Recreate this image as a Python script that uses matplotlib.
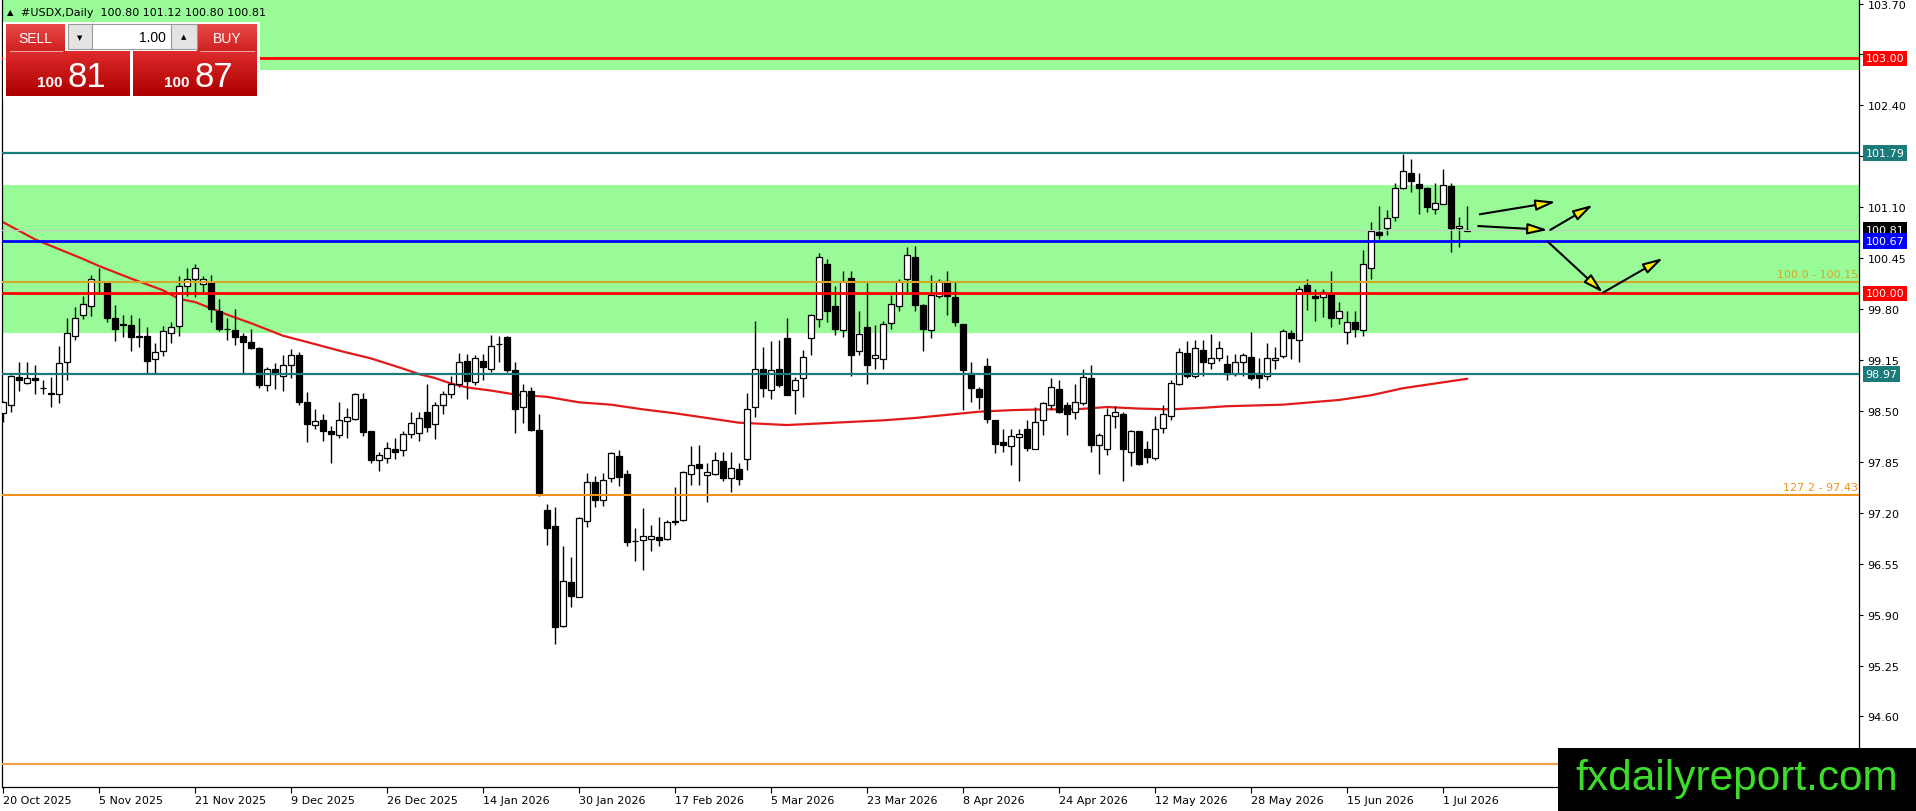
import numpy as np
import matplotlib
matplotlib.use('Agg')
import matplotlib.pyplot as plt
from matplotlib.patches import Rectangle
from matplotlib.colors import LinearSegmentedColormap

# daily candles, one per bar index
opens = [98.47, 98.58, 98.93, 98.86, 98.92, 98.79, 98.73, 98.71, 99.12, 99.46,
         99.73, 99.84, 100.15, 100.13, 99.68, 99.61, 99.60, 99.46, 99.46, 99.16,
         99.26, 99.50, 99.58, 100.09, 100.19, 100.12, 100.15, 99.78, 99.55, 99.53,
         99.46, 99.38, 99.30, 98.83, 99.04, 98.94, 99.08, 99.22, 98.61, 98.32,
         98.39, 98.25, 98.19, 98.37, 98.40, 98.65, 98.25, 97.88, 97.90, 98.02,
         98.00, 98.20, 98.22, 98.48, 98.33, 98.58, 98.71, 98.85, 99.14, 98.87,
         99.14, 99.03, 99.35, 99.44, 99.02, 98.55, 98.76, 98.26, 97.24, 97.03,
         95.75, 96.32, 96.13, 97.09, 97.59, 97.36, 97.65, 97.93, 97.70, 96.84,
         96.85, 96.87, 96.89, 96.86, 97.10, 97.11, 97.70, 97.82, 97.68, 97.70,
         97.86, 97.64, 97.76, 97.89, 98.55, 99.03, 98.77, 99.03, 99.43, 98.77,
         98.92, 99.43, 99.67, 100.37, 99.84, 99.53, 100.20, 99.26, 99.57, 99.17,
         99.16, 99.62, 99.84, 100.19, 100.47, 99.85, 99.53, 99.97, 100.16, 99.96,
         99.61, 98.99, 98.78, 99.07, 98.38, 98.10, 98.05, 98.17, 98.27, 98.02,
         98.38, 98.57, 98.78, 98.58, 98.48, 98.60, 98.92, 98.06, 98.02, 98.44,
         98.46, 97.98, 98.24, 98.01, 97.90, 98.28, 98.44, 98.84, 99.24, 98.95,
         99.28, 99.11, 99.17, 99.10, 98.97, 99.12, 99.19, 98.98, 98.95, 99.15,
         99.20, 99.50, 99.40, 100.11, 99.97, 99.96, 99.99, 99.68, 99.51, 99.63,
         99.53, 100.33, 100.78, 100.83, 100.98, 101.34, 101.54, 101.40, 101.35, 101.08,
         101.14, 101.37, 100.84, 100.80]
highs = [98.63, 98.96, 99.12, 99.12, 99.09, 98.89, 98.93, 99.33, 99.69, 99.83,
         99.97, 100.23, 100.33, 100.14, 99.85, 99.72, 99.72, 99.68, 99.57, 99.37,
         99.59, 99.63, 100.22, 100.33, 100.37, 100.22, 100.23, 99.93, 99.68, 99.80,
         99.50, 99.55, 99.31, 99.06, 99.11, 99.21, 99.29, 99.25, 98.74, 98.52,
         98.46, 98.31, 98.62, 98.54, 98.73, 98.73, 98.25, 97.98, 98.10, 98.15,
         98.25, 98.48, 98.48, 98.85, 98.61, 98.76, 98.95, 99.24, 99.23, 99.22,
         99.23, 99.47, 99.46, 99.46, 99.12, 98.85, 98.81, 98.46, 97.31, 97.28,
         96.77, 96.64, 97.14, 97.71, 97.67, 97.71, 97.97, 98.00, 97.74, 97.00,
         97.26, 97.05, 97.14, 97.11, 97.53, 97.73, 98.05, 98.07, 97.84, 97.97,
         97.97, 97.98, 97.84, 98.73, 99.65, 99.31, 99.39, 99.41, 99.68, 98.93,
         99.28, 99.74, 100.52, 100.44, 100.10, 100.29, 100.29, 99.78, 100.13, 99.60,
         99.65, 99.98, 100.19, 100.59, 100.61, 99.86, 100.23, 100.19, 100.28, 100.15,
         99.61, 99.13, 98.80, 99.17, 98.38, 98.27, 98.27, 98.27, 98.38, 98.55,
         98.62, 98.92, 98.90, 98.61, 98.85, 99.04, 99.08, 98.22, 98.54, 98.56,
         98.48, 98.26, 98.25, 98.12, 98.44, 98.58, 98.89, 99.30, 99.39, 99.40,
         99.40, 99.48, 99.39, 99.22, 99.23, 99.24, 99.51, 99.17, 99.37, 99.31,
         99.54, 99.53, 100.10, 100.19, 100.06, 100.06, 100.28, 99.89, 99.77, 99.77,
         100.55, 100.91, 101.11, 101.07, 101.41, 101.78, 101.72, 101.54, 101.36, 101.41,
         101.59, 101.41, 100.97, 101.12]
lows = [98.36, 98.48, 98.76, 98.84, 98.71, 98.72, 98.55, 98.60, 98.89, 99.40,
        99.67, 99.71, 100.01, 99.64, 99.39, 99.44, 99.26, 99.31, 98.97, 98.97,
        99.20, 99.37, 99.46, 99.97, 99.96, 100.01, 99.63, 99.52, 99.40, 99.34,
        98.99, 99.29, 98.79, 98.75, 98.78, 98.76, 98.92, 98.57, 98.10, 98.27,
        98.11, 97.84, 98.15, 98.15, 98.38, 98.18, 97.83, 97.73, 97.83, 97.89,
        97.93, 98.15, 98.12, 98.23, 98.14, 98.46, 98.66, 98.80, 98.65, 98.83,
        98.90, 99.00, 99.12, 99.00, 98.22, 98.35, 98.25, 97.42, 96.79, 95.52,
        95.74, 96.00, 96.12, 97.02, 97.28, 97.29, 97.59, 97.54, 96.77, 96.58,
        96.47, 96.71, 96.77, 96.85, 97.04, 97.09, 97.55, 97.56, 97.34, 97.68,
        97.60, 97.46, 97.55, 97.74, 98.42, 98.68, 98.65, 98.80, 98.70, 98.46,
        98.68, 99.22, 99.57, 99.63, 99.47, 99.45, 98.95, 99.22, 98.85, 99.03,
        99.04, 99.54, 99.77, 100.02, 99.78, 99.27, 99.43, 99.94, 99.73, 99.58,
        98.51, 98.61, 98.53, 98.34, 97.96, 97.98, 97.81, 97.60, 97.99, 98.01,
        98.19, 98.53, 98.47, 98.19, 98.40, 98.57, 97.98, 97.69, 97.94, 98.28,
        97.60, 97.80, 97.81, 97.83, 97.88, 98.22, 98.39, 98.83, 98.92, 98.92,
        98.95, 99.03, 99.14, 98.89, 98.95, 98.94, 98.90, 98.79, 98.89, 99.03,
        99.17, 99.16, 99.13, 99.79, 99.65, 99.70, 99.57, 99.61, 99.36, 99.44,
        99.46, 100.19, 100.70, 100.74, 100.93, 101.33, 101.29, 101.01, 101.04, 101.01,
        101.14, 100.53, 100.59, 100.80]
closes = [98.61, 98.94, 98.89, 98.92, 98.90, 98.79, 98.71, 99.11, 99.49, 99.69,
          99.86, 100.19, 100.14, 99.68, 99.54, 99.60, 99.45, 99.45, 99.14, 99.25,
          99.52, 99.57, 100.10, 100.19, 100.32, 100.18, 99.80, 99.54, 99.54, 99.45,
          99.38, 99.30, 98.83, 99.03, 98.97, 99.08, 99.22, 98.62, 98.33, 98.37,
          98.25, 98.20, 98.39, 98.42, 98.71, 98.23, 97.87, 97.94, 98.03, 97.98,
          98.21, 98.35, 98.41, 98.30, 98.57, 98.72, 98.85, 99.12, 98.88, 99.17,
          99.06, 99.33, 99.35, 99.02, 98.52, 98.75, 98.26, 97.45, 97.01, 95.74,
          96.33, 96.14, 97.13, 97.59, 97.36, 97.62, 97.96, 97.66, 96.83, 96.84,
          96.91, 96.90, 96.85, 97.08, 97.08, 97.72, 97.81, 97.77, 97.72, 97.87,
          97.65, 97.77, 97.63, 98.52, 99.03, 98.79, 99.02, 98.83, 98.70, 98.90,
          99.19, 99.72, 100.47, 99.77, 99.54, 100.16, 99.21, 99.48, 99.09, 99.22,
          99.61, 99.87, 100.16, 100.49, 99.85, 99.54, 99.98, 100.16, 99.97, 99.64,
          99.02, 98.79, 98.68, 98.40, 98.08, 98.07, 98.18, 98.20, 98.03, 98.36,
          98.60, 98.80, 98.48, 98.46, 98.61, 98.93, 98.07, 98.19, 98.45, 98.48,
          98.01, 98.24, 97.82, 97.91, 98.27, 98.46, 98.86, 99.25, 98.95, 99.30,
          99.12, 99.18, 99.30, 98.97, 99.12, 99.21, 98.92, 98.92, 99.17, 99.18,
          99.52, 99.43, 100.05, 100.02, 99.94, 100.02, 99.68, 99.78, 99.64, 99.54,
          100.37, 100.80, 100.74, 100.96, 101.35, 101.56, 101.44, 101.34, 101.10, 101.15,
          101.39, 100.84, 100.86, 100.81]

# red moving average, sampled along the curve
ma_bar = [0, 4, 10, 12, 16, 20, 22, 24, 26, 28, 31, 35, 38, 42, 46, 50, 52, 54, 56, 58,
          61, 64, 68, 72, 76, 80, 84, 88, 92, 98, 102, 106, 110, 114, 118, 122, 126,
          130, 134, 138, 142, 146, 150, 153, 160, 167, 171, 175, 179, 183]
ma_val = [100.91, 100.69, 100.44, 100.35, 100.19, 100.04, 99.93, 99.89, 99.81, 99.73,
          99.62, 99.46, 99.38, 99.27, 99.17, 99.04, 98.97, 98.92, 98.85, 98.80,
          98.76, 98.71, 98.68, 98.61, 98.58, 98.52, 98.47, 98.41, 98.35, 98.32,
          98.34, 98.36, 98.38, 98.41, 98.45, 98.49, 98.51, 98.52, 98.52, 98.55,
          98.53, 98.52, 98.54, 98.56, 98.58, 98.64, 98.70, 98.79, 98.85, 98.91]

date_bars = [0, 12, 24, 36, 48, 60, 72, 84, 96, 108, 120, 132, 144, 156, 168, 180]
date_labels = ['20 Oct 2025', '5 Nov 2025', '21 Nov 2025', '9 Dec 2025', '26 Dec 2025',
               '14 Jan 2026', '30 Jan 2026', '17 Feb 2026', '5 Mar 2026', '23 Mar 2026',
               '8 Apr 2026', '24 Apr 2026', '12 May 2026', '28 May 2026', '15 Jun 2026',
               '1 Jul 2026']

zones = [(102.85, 103.745), (99.49, 101.38)]
levels = [103.00, 101.79, 100.81, 100.67, 100.15, 100.00, 98.97, 97.43, 93.99]
level_colors = ['#ff0000', '#1b7b7b', '#c8c8c8', '#0000ff', '#d6a628', '#ff0000',
                '#1b7b7b', '#f39019', '#eda046']
level_widths = [2.0, 1.6, 0.8, 2.0, 1.5, 2.0, 1.6, 1.5, 1.5]
price_tags = [(103.00, '#ff0000'), (101.79, '#1b7b7b'), (100.81, '#000000'),
              (100.67, '#0000ff'), (100.00, '#ff0000'), (98.97, '#1b7b7b')]
fib_tags = [(100.15, '100.0 - 100.15', '#d6a628'), (97.43, '127.2 - 97.43', '#f39019')]

arrows = [((184.6, 101.01), (194.1, 101.17)),
          ((184.4, 100.86), (193.1, 100.81)),
          ((193.4, 100.81), (198.75, 101.13)),
          ((193.1, 100.66), (200.0, 100.01)),
          ((200.0, 100.01), (207.5, 100.45))]

W, H = 1916, 812
fig = plt.figure(figsize=(W / 100, H / 100), dpi=100)
fig.patch.set_facecolor('white')
ax = fig.add_axes([2 / W, 1 - 788 / H, 1857 / W, 787 / H])
ax.set_xlim(-0.125, 232)
ax.set_ylim(93.70, 103.745)

for lo, hi in zones:
    ax.axhspan(lo, hi, color='#98fb98', lw=0, zorder=0)

ax.plot(ma_bar, ma_val, color='#e31a1a', lw=1.6, zorder=2)

o = np.array(opens); h = np.array(highs); l = np.array(lows); c = np.array(closes)
x = np.arange(len(o))
ax.vlines(x, l, h, color='black', lw=1.0, zorder=3)
up = c >= o
body_lo = np.minimum(o, c)
body_h = np.maximum(np.abs(c - o), 0.004)
ax.bar(x[up], body_h[up], bottom=body_lo[up], width=0.65, color='white',
       edgecolor='black', lw=0.9, zorder=3.5)
ax.bar(x[~up], body_h[~up], bottom=body_lo[~up], width=0.65, color='black',
       edgecolor='black', lw=0.9, zorder=3.5)

for lv, col, lw in zip(levels, level_colors, level_widths):
    ax.axhline(lv, color=col, lw=lw, zorder=4)

for lv, txt, col in fib_tags:
    ax.text(0.9995, lv + 0.03, txt, transform=ax.get_yaxis_transform(), ha='right',
            va='bottom', color=col, fontsize=8, zorder=5)

for (x0, y0), (x1, y1) in arrows:
    ax.annotate('', xy=(x1, y1), xytext=(x0, y0),
                arrowprops=dict(arrowstyle='-|>,head_length=1.2,head_width=0.33',
                                mutation_scale=10, fc='#ffee00', ec='black', lw=1.5,
                                shrinkA=0, shrinkB=0), zorder=6)

# axes styling
ax.set_xticks(date_bars)
ax.set_xticklabels(date_labels, ha='left', fontsize=8)
ax.tick_params(axis='x', direction='out', length=4, pad=2, width=0.8)
yt = np.round(np.arange(93.95, 103.71, 0.65), 2)
ax.set_yticks(yt)
# 93.95 sits under the watermark and 101.75 under the 101.79 tag
hidden = {93.95, 101.75}
ax.set_yticklabels(['' if v in hidden else '%.2f' % v for v in yt], fontsize=8)
ax.yaxis.tick_right()
ax.tick_params(axis='y', direction='out', length=3, pad=3, width=0.8)
for s in ax.spines.values():
    s.set_linewidth(0.9)
ax.spines['top'].set_visible(False)

for lv, col in price_tags:
    ax.text(1.0035, lv, '%.2f' % lv, transform=ax.get_yaxis_transform(), ha='left',
            va='center', color='white', fontsize=8, zorder=10, clip_on=False,
            bbox=dict(boxstyle='square,pad=0.25', fc=col, ec='none'))

# overlay in pixel coordinates for the trade panel, header and watermark
ov = fig.add_axes([0, 0, 1, 1])
ov.set_xlim(0, W); ov.set_ylim(H, 0)
ov.axis('off')
ov.patch.set_alpha(0)


def grad(x0, y0, x1, y1, top, bot):
    cm = LinearSegmentedColormap.from_list('g', [top, bot])
    ov.imshow(np.linspace(0, 1, 60).reshape(-1, 1), extent=(x0, x1, y1, y0),
              cmap=cm, aspect='auto', origin='upper', zorder=3)


ov.text(7, 13, '\u25b2', fontsize=6, va='center', ha='left')
ov.text(21, 13, '#USDX,Daily  100.80 101.12 100.80 100.81', fontsize=8,
        va='center', ha='left')

ov.add_patch(Rectangle((3, 23), 257, 77, fc='white', ec='none', zorder=2))
grad(6, 25, 65, 52, '#ea4a4a', '#cf2020')
grad(197, 25, 257, 52, '#ea4a4a', '#cf2020')
grad(6, 52, 130, 97, '#de2a2a', '#ad0000')
grad(133, 52, 257, 97, '#de2a2a', '#ad0000')
ov.plot([10, 62], [51.5, 51.5], color='#f3a0a0', lw=0.8, zorder=4)
ov.plot([200, 254], [51.5, 51.5], color='#f3a0a0', lw=0.8, zorder=4)
ov.add_patch(Rectangle((68, 25), 24, 25, fc='#e4e4e4', ec='#9a9a9a', lw=0.8, zorder=3))
ov.add_patch(Rectangle((92, 25), 79, 25, fc='white', ec='#9a9a9a', lw=0.8, zorder=3))
ov.add_patch(Rectangle((171, 25), 26, 25, fc='#e4e4e4', ec='#9a9a9a', lw=0.8, zorder=3))
ov.text(80, 38, '\u25bc', fontsize=5, ha='center', va='center', zorder=5)
ov.text(184, 37, '\u25b2', fontsize=5, ha='center', va='center', zorder=5)
ov.text(166, 38, '1.00', fontsize=10, ha='right', va='center', family='Liberation Sans', zorder=5)
ov.text(35, 39, 'SELL', fontsize=10, ha='center', va='center', color='white',
        family='Liberation Sans', zorder=5)
ov.text(227, 39, 'BUY', fontsize=10, ha='center', va='center', color='white',
        family='Liberation Sans', zorder=5)
for xr, big in [(63, '81'), (190, '87')]:
    ov.text(xr, 87, '100', fontsize=11, fontweight='bold', ha='right', va='baseline',
            color='white', family='Liberation Sans', zorder=5)
    ov.text(xr + 5, 87, big, fontsize=25, ha='left', va='baseline', color='white',
            family='Liberation Sans', zorder=5)

ov.add_patch(Rectangle((1558, 749), W - 1558, H - 749, fc='black', ec='none', zorder=6))
ov.text(1575, 790, 'fxdailyreport.com', fontsize=30.5, color='#3ddc2a', ha='left',
        va='baseline', family='Liberation Sans', zorder=7)

fig.savefig('out.png', dpi=100)
